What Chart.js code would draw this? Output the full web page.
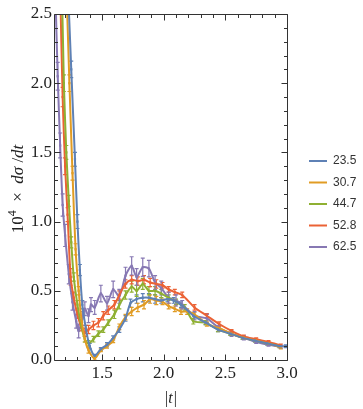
<!DOCTYPE html>
<html><head><meta charset="utf-8">
<script src="https://cdn.jsdelivr.net/npm/chart.js@4.4.1/dist/chart.umd.min.js"></script>
<style>html,body{margin:0;padding:0;background:#fff}#wrap{width:363px;height:409px;position:relative}</style>
</head><body><div id="wrap"><canvas id="c"></canvas></div>
<script>
const energies = ['23.5','30.7','44.7','52.8','62.5'];
const seriesColors = ['#5E81B5','#E19C24','#8FB032','#EB6235','#8778B3'];
const xTickValues = [1.5, 2.0, 2.5, 3.0];
const yTickValues = [0.0, 0.5, 1.0, 1.5, 2.0, 2.5];

const t235 = [1.20,1.25,1.28,1.30,1.32,1.34,1.37,1.40,1.44,1.49,1.54,1.59,1.64,1.69,1.73,1.78,1.83,1.88,1.93,1.98,2.03,2.08,2.14,2.24,2.34,2.44,2.54,2.64,2.74,2.84,2.94,2.99];
const v235 = [3.20,2.10,1.45,1.00,0.65,0.40,0.22,0.10,0.03,0.08,0.11,0.16,0.22,0.30,0.41,0.44,0.45,0.45,0.44,0.43,0.44,0.43,0.40,0.32,0.27,0.22,0.19,0.16,0.14,0.12,0.10,0.10];
const e235 = [0.10,0.06,0.05,0.05,0.04,0.03,0.03,0.02,0.01,0.01,0.015,0.015,0.02,0.02,0.03,0.03,0.03,0.03,0.03,0.02,0.02,0.02,0.02,0.02,0.015,0.015,0.01,0.01,0.01,0.01,0.01,0.01];

const t307 = [1.20,1.235,1.26,1.285,1.31,1.335,1.36,1.39,1.44,1.49,1.54,1.59,1.64,1.69,1.74,1.79,1.84,1.89,1.94,1.99,2.04,2.09,2.14,2.19,2.25,2.35,2.45,2.55,2.65,2.75,2.85,2.95];
const v307 = [3.00,2.00,1.35,0.80,0.50,0.28,0.15,0.07,0.01,0.07,0.10,0.14,0.24,0.31,0.35,0.38,0.40,0.44,0.43,0.42,0.39,0.37,0.35,0.35,0.33,0.26,0.23,0.19,0.16,0.14,0.12,0.09];
const e307 = [0.08,0.06,0.05,0.04,0.03,0.03,0.02,0.02,0.01,0.01,0.015,0.015,0.02,0.02,0.03,0.03,0.03,0.03,0.03,0.02,0.02,0.02,0.02,0.02,0.015,0.015,0.01,0.01,0.01,0.01,0.01,0.01];

const t447 = [1.17,1.19,1.21,1.23,1.25,1.27,1.30,1.33,1.36,1.39,1.43,1.47,1.51,1.55,1.60,1.64,1.69,1.74,1.78,1.83,1.88,1.93,1.98,2.04,2.10,2.17,2.24,2.34,2.44,2.54,2.64,2.74,2.84,2.94];
const v447 = [2.90,2.00,1.50,1.15,0.85,0.60,0.40,0.25,0.15,0.12,0.15,0.19,0.22,0.27,0.33,0.40,0.47,0.53,0.50,0.55,0.50,0.50,0.48,0.45,0.42,0.38,0.28,0.27,0.22,0.19,0.16,0.14,0.12,0.10];
const e447 = [0.10,0.06,0.05,0.04,0.04,0.03,0.03,0.02,0.02,0.02,0.02,0.02,0.02,0.02,0.03,0.03,0.03,0.04,0.04,0.04,0.03,0.03,0.03,0.02,0.02,0.02,0.02,0.015,0.015,0.01,0.01,0.01,0.01,0.01];

const t528 = [1.16,1.18,1.20,1.22,1.245,1.27,1.30,1.33,1.36,1.39,1.43,1.47,1.51,1.55,1.60,1.64,1.69,1.74,1.79,1.84,1.89,1.94,1.99,2.04,2.09,2.15,2.25,2.35,2.45,2.55,2.65,2.75,2.85,2.95];
const v528 = [2.70,1.90,1.40,1.05,0.60,0.45,0.33,0.24,0.20,0.22,0.25,0.27,0.32,0.36,0.40,0.47,0.55,0.58,0.57,0.58,0.56,0.55,0.54,0.51,0.49,0.47,0.38,0.32,0.26,0.21,0.17,0.15,0.13,0.105];
const e528 = [0.10,0.07,0.06,0.05,0.06,0.04,0.03,0.03,0.03,0.03,0.03,0.03,0.03,0.03,0.03,0.03,0.03,0.03,0.03,0.03,0.03,0.03,0.02,0.02,0.02,0.02,0.02,0.015,0.015,0.01,0.01,0.01,0.01,0.01];

const t625 = [1.12,1.14,1.16,1.18,1.20,1.23,1.26,1.29,1.31,1.34,1.36,1.39,1.41,1.44,1.49,1.54,1.59,1.64,1.69,1.74,1.78,1.83,1.88,1.93,1.98,2.04,2.10,2.15,2.25,2.35,2.45,2.55,2.65,2.75,2.85,2.95];
const v625 = [2.70,2.05,1.55,1.12,0.90,0.62,0.42,0.28,0.21,0.30,0.37,0.32,0.40,0.38,0.48,0.41,0.51,0.46,0.61,0.68,0.60,0.67,0.66,0.56,0.52,0.45,0.43,0.40,0.32,0.30,0.23,0.19,0.16,0.13,0.11,0.095];
const e625 = [0.12,0.10,0.09,0.08,0.08,0.07,0.06,0.05,0.05,0.05,0.05,0.05,0.05,0.05,0.06,0.05,0.06,0.05,0.06,0.066,0.06,0.066,0.06,0.05,0.05,0.04,0.04,0.03,0.03,0.03,0.02,0.02,0.015,0.01,0.01,0.01];

const seriesT = [t235,t307,t447,t528,t625];
const seriesV = [v235,v307,v447,v528,v625];
const seriesE = [e235,e307,e447,e528,e625];

const datasets = energies.map((name,i)=>({
  label: name,
  data: seriesT[i].map((x,k)=>({x:x, y:seriesV[i][k], err:seriesE[i][k]})),
  showLine: true,
  borderColor: seriesColors[i],
  backgroundColor: seriesColors[i],
  borderWidth: 2,
  tension: 0.25,
  pointStyle: 'rect',
  pointRadius: 1.6,
  pointBorderWidth: 0,
  pointHoverRadius: 0
}));

const errorBars = {
  id:'errorBars',
  beforeDatasetsDraw(chart){
    const {ctx, chartArea:a, scales:{x,y}} = chart;
    ctx.save();
    ctx.beginPath(); ctx.rect(a.left,a.top,a.right-a.left,a.bottom-a.top); ctx.clip();
    chart.data.datasets.forEach((ds)=>{
      ctx.strokeStyle = ds.borderColor; ctx.lineWidth = 1.2;
      ds.data.forEach(p=>{
        const px = x.getPixelForValue(p.x);
        const y1 = y.getPixelForValue(p.y - p.err), y2 = y.getPixelForValue(p.y + p.err);
        ctx.beginPath();
        ctx.moveTo(px,y1); ctx.lineTo(px,y2);
        ctx.moveTo(px-2,y1); ctx.lineTo(px+2,y1);
        ctx.moveTo(px-2,y2); ctx.lineTo(px+2,y2);
        ctx.stroke();
      });
    });
    ctx.restore();
  }
};

const frame = {
  id:'frame',
  afterDraw(chart){
    const {ctx, chartArea:a, scales:{x,y}} = chart;
    ctx.save();
    ctx.strokeStyle = '#333'; ctx.lineWidth = 1;
    const L = Math.round(a.left)+0.5, R = Math.round(a.right)+0.5, T = Math.round(a.top)+0.5, B = Math.round(a.bottom)+0.5;
    ctx.beginPath(); ctx.rect(L,T,R-L,B-T); ctx.stroke();
    ctx.beginPath();
    for(let k=12;k<=30;k++){
      const v=k/10; const px=Math.round(x.getPixelForValue(v))+0.5;
      if(px<L||px>R) continue;
      const len = (k%5===0)?6:3.5;
      ctx.moveTo(px,B); ctx.lineTo(px,B-len);
      ctx.moveTo(px,T); ctx.lineTo(px,T+len);
    }
    for(let k=0;k<=25;k++){
      const v=k/10; const py=Math.round(y.getPixelForValue(v))+0.5;
      const len = (k%5===0)?6:3.5;
      ctx.moveTo(L,py); ctx.lineTo(L+len,py);
      ctx.moveTo(R,py); ctx.lineTo(R-len,py);
    }
    ctx.stroke();
    // x title
    ctx.fillStyle='#222';
    ctx.textBaseline='middle';
    const cx=(a.left+a.right)/2, ty=399;
    ctx.font='16px "Liberation Serif"';
    const wBar=ctx.measureText('|').width;
    ctx.font='italic 16px "Liberation Serif"';
    const wT=ctx.measureText('t').width;
    let sx=cx-(2*wBar+wT)/2;
    ctx.textAlign='left';
    ctx.font='16px "Liberation Serif"'; ctx.fillText('|',sx,ty); sx+=wBar;
    ctx.font='italic 16px "Liberation Serif"'; ctx.fillText('t',sx,ty); sx+=wT+1;
    ctx.font='16px "Liberation Serif"'; ctx.fillText('|',sx,ty);
    // y title
    ctx.save();
    ctx.translate(19,(a.top+a.bottom)/2+2);
    ctx.rotate(-Math.PI/2);
    const parts=[['10','17px "Liberation Serif"',0],['4','12px "Liberation Serif"',-6],['  \u00d7  ','17px "Liberation Serif"',0],['d\u03c3','italic 17px "Liberation Serif"',0],[' /','17px "Liberation Serif"',0],['dt','italic 17px "Liberation Serif"',0]];
    let tw=0; parts.forEach(p=>{ctx.font=p[1]; tw+=ctx.measureText(p[0]).width;});
    let ox=-tw/2;
    parts.forEach(p=>{ctx.font=p[1]; ctx.fillText(p[0],ox,p[2]); ox+=ctx.measureText(p[0]).width;});
    ctx.restore();
    // legend
    ctx.font='12px "Liberation Sans"';
    energies.forEach((name,i)=>{
      const ly=161+i*21.5;
      ctx.strokeStyle=seriesColors[i]; ctx.lineWidth=2;
      ctx.beginPath(); ctx.moveTo(309,ly); ctx.lineTo(327,ly); ctx.stroke();
      ctx.fillStyle='#333'; ctx.fillText(name,333,ly);
    });
    ctx.restore();
  }
};

new Chart(document.getElementById('c'),{
  type:'scatter',
  data:{datasets},
  options:{
    responsive:true, maintainAspectRatio:false, animation:false,
    layout:{padding:{left:0,right:76,top:14,bottom:0}},
    plugins:{legend:{display:false},tooltip:{enabled:false}},
    scales:{
      x:{type:'linear',min:1.11,max:3.0,
        grid:{display:false,drawTicks:false,tickLength:0},border:{display:false},
        afterBuildTicks(s){s.ticks=xTickValues.map(v=>({value:v}));},
        afterFit(s){s.height=49;},
        ticks:{font:{family:'"Liberation Serif"',size:17},color:'#222',padding:3,maxRotation:0,callback:v=>v.toFixed(1)}},
      y:{type:'linear',min:0,max:2.5,
        grid:{display:false,drawTicks:false,tickLength:0},border:{display:false},
        afterBuildTicks(s){s.ticks=yTickValues.map(v=>({value:v}));},
        afterFit(s){s.width=54;},
        ticks:{font:{family:'"Liberation Serif"',size:17},color:'#222',padding:2,callback:v=>v.toFixed(1)}}
    }
  },
  plugins:[errorBars,frame]
});
</script></body></html>
